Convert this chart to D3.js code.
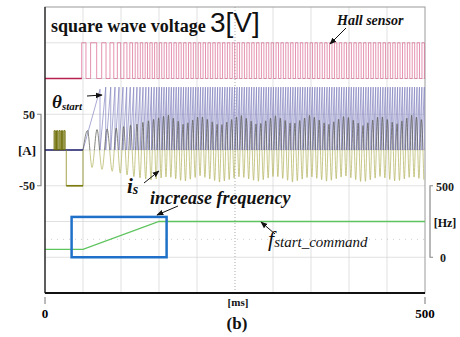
<!DOCTYPE html>
<html>
<head>
<meta charset="utf-8">
<script src="https://cdn.jsdelivr.net/npm/d3@7"></script>
<style>
  body { margin: 0; background: #fff; }
  svg { display: block; }
</style>
</head>
<body>
<div id="chart"></div>
<script>
// ---- values ----
const timeTicks = [0, 500];          // [ms]
const ampTicks = [-50, 50];          // [A]
const hzTicks = [0, 500];            // [Hz]

// f_start_command
const fCmdTime = [0, 50, 150, 500];
const fCmdHz = [55, 55, 250, 250];

// current pulses from the square wave voltage, then alignment at -50 A
const pulseRise = [12.0, 15.2, 18.4, 21.6, 24.8];
const pulseFall = [13.6, 16.8, 20.0, 23.2, 26.4];
const pulseAmp = 27;
const alignTime = [28, 50];
const alignAmp = -50;

// hall sensor edges [ms]: the sparse start, then the dense part by its spacing
const hallEdgesEarly = [48.3, 53.9, 60.0, 68.0, 74.6, 80.3, 85.5, 90.5, 95.2, 99.6, 103.8,
  107.8, 111.6, 115.2, 118.7, 122.1, 125.4, 128.6, 131.8, 134.9, 138.0, 141.1, 144.2, 147.3, 150.4];
const hallDense = [153.6, 500, 3.2];

// theta_start sawtooth resets [ms]
const thetaStart = 50;
const thetaResetsEarly = [72.4, 79.9, 86.5, 92.1, 97.4, 102.6, 107.5, 112.2, 116.7, 121.0,
  125.1, 129.0, 132.8, 136.5, 140.1, 143.6, 147.0, 150.3];
const thetaDense = [153.5, 500, 3.2];
const thetaPeak = [85, 88];          // first ramp, later ramps

// i_s troughs [ms] and envelopes
const isTroughsEarly = [61.9, 75.0, 88.5, 99.0, 108.0, 117.0, 125.0, 132.5, 139.5, 146.3];
const isDense = [152.8, 500, 6.4];
const isEnvTime = [50, 60, 75, 90, 105, 120, 140, 162, 183, 204, 230, 257, 280, 303, 326, 349, 372, 395, 418, 441, 462, 483, 500];
const isPosEnv = [26, 28, 29, 30, 33, 36, 42, 49, 35, 48, 34, 49, 35, 48, 36, 49, 35, 48, 34, 48, 36, 49, 40];
const isNegEnv = [-20, -24, -27, -30, -34, -38, -42, -37, -44, -36, -45, -37, -44, -36, -45, -37, -44, -36, -45, -37, -44, -37, -42];

// "increase frequency" box [ms, Hz]
const boxTime = [35, 160];
const boxHz = [0, 282];

const W = 460, H = 337;
const pL = 45, pR = 425, pT = 7, pB = 293;

const svg = d3.select('#chart').append('svg')
    .attr('width', W)
    .attr('height', H);

const x = d3.scaleLinear().domain([0, 500]).range([pL, pR]);
const div = d3.scaleLinear().domain([0, 8]).range([pT, pB]);   // scope divisions
const yA = d3.scaleLinear().domain([-50, 50]).range([div(5), div(3)]);
const yHz = d3.scaleLinear().domain([0, 500]).range([div(7), div(5)]);
const yHall = d3.scaleLinear().domain([0, 1]).range([div(2), div(1)]);

const posEnv = d3.scaleLinear().domain(isEnvTime).range(isPosEnv);
const negEnv = d3.scaleLinear().domain(isEnvTime).range(isNegEnv);

const defs = svg.append('defs');
defs.append('marker')
    .attr('id', 'arr')
    .attr('viewBox', '0 0 10 10')
    .attr('refX', 9).attr('refY', 5)
    .attr('markerWidth', 7).attr('markerHeight', 7)
    .attr('markerUnits', 'userSpaceOnUse')
    .attr('orient', 'auto')
  .append('path')
    .attr('d', 'M0,1 L10,5 L0,9 Z')
    .attr('fill', '#111');
defs.append('clipPath').attr('id', 'clipPos')
  .append('rect').attr('x', pL).attr('y', pT).attr('width', pR - pL).attr('height', yA(0) - pT);
defs.append('clipPath').attr('id', 'clipNeg')
  .append('rect').attr('x', pL).attr('y', yA(0)).attr('width', pR - pL).attr('height', pB - yA(0));

// grid
const grid = svg.append('g');
grid.selectAll('line.v')
    .data(d3.range(50, 500, 50).filter(d => d !== 250))
  .enter().append('line')
    .attr('x1', d => x(d)).attr('x2', d => x(d))
    .attr('y1', pT).attr('y2', pB)
    .attr('stroke', '#d4d4d4').attr('stroke-width', 0.7);
grid.selectAll('line.h')
    .data(d3.range(1, 8))
  .enter().append('line')
    .attr('x1', pL).attr('x2', pR)
    .attr('y1', d => div(d)).attr('y2', d => div(d))
    .attr('stroke', '#d4d4d4').attr('stroke-width', 0.7);
grid.append('line')
    .attr('x1', x(250)).attr('x2', x(250))
    .attr('y1', pT).attr('y2', pB)
    .attr('stroke', '#888').attr('stroke-width', 0.7).attr('stroke-dasharray', '1,2');
grid.append('line')
    .attr('x1', pL).attr('x2', pR)
    .attr('y1', div(6.5)).attr('y2', div(6.5))
    .attr('stroke', '#bbb').attr('stroke-width', 0.7).attr('stroke-dasharray', '1,5');

// frame
svg.append('rect')
    .attr('x', pL).attr('y', pT)
    .attr('width', pR - pL).attr('height', pB - pT)
    .attr('fill', 'none').attr('stroke', '#9a9a9a').attr('stroke-width', 1);

const line = d3.line().x(d => x(d[0])).y(d => d[1]);

// hall sensor
const hallEdges = hallEdgesEarly.concat(d3.range(...hallDense));
let hallPts = [[0, yHall(0)]], level = 0;
hallEdges.forEach(t => {
    hallPts.push([t, yHall(level)]);
    level = 1 - level;
    hallPts.push([t, yHall(level)]);
});
hallPts.push([500, yHall(level)]);
svg.append('path')
    .attr('d', line(hallPts))
    .attr('fill', 'none').attr('stroke', '#d9648e').attr('stroke-width', 0.7);
svg.append('line')
    .attr('x1', x(0)).attr('x2', x(hallEdgesEarly[0]))
    .attr('y1', yHall(0)).attr('y2', yHall(0))
    .attr('stroke', '#b82050').attr('stroke-width', 1.4);

// i_s (after start)
const troughs = isTroughsEarly.concat(d3.range(...isDense));
let isPts = [[thetaStart, 0]], prev = thetaStart;
troughs.forEach(t => {
    const pk = (prev + t) / 2;
    isPts.push([pk, posEnv(pk)]);
    isPts.push([t, negEnv(t)]);
    prev = t;
});
const isLine = d3.line().x(d => x(d[0])).y(d => yA(d[1])).curve(d3.curveMonotoneX);
svg.append('path')
    .attr('d', isLine(isPts))
    .attr('clip-path', 'url(#clipNeg)')
    .attr('fill', 'none').attr('stroke', '#b6b664').attr('stroke-width', 0.75);

// theta_start sawtooth
const resets = thetaResetsEarly.concat(d3.range(...thetaDense));
let thPts = [[thetaStart, yA(0)]];
resets.forEach((t, i) => {
    thPts.push([t, yA(i === 0 ? thetaPeak[0] : thetaPeak[1])]);
    thPts.push([t, yA(0)]);
});
svg.append('path')
    .attr('d', line(thPts))
    .attr('fill', 'none').attr('stroke', '#8484c0').attr('stroke-width', 0.7);

svg.append('path')
    .attr('d', isLine(isPts))
    .attr('clip-path', 'url(#clipPos)')
    .attr('fill', 'none').attr('stroke', '#5e5e58').attr('stroke-width', 0.75);

// zero line before start
svg.append('line')
    .attr('x1', x(0)).attr('x2', x(thetaStart))
    .attr('y1', yA(0)).attr('y2', yA(0))
    .attr('stroke', '#1c1c6e').attr('stroke-width', 1.3);

// square wave current pulses
let pPts = [[pulseRise[0] - 1, yA(0)]];
pulseRise.forEach((t, i) => {
    pPts.push([t, yA(0)], [t, yA(pulseAmp)], [pulseFall[i], yA(pulseAmp)], [pulseFall[i], yA(0)]);
});
svg.append('path')
    .attr('d', line(pPts))
    .attr('fill', '#8a8a1a').attr('fill-opacity', 0.35)
    .attr('stroke', '#6e6e08').attr('stroke-width', 1);

// alignment at -50 A
svg.append('path')
    .attr('d', line([[alignTime[0], yA(0)], [alignTime[0], yA(alignAmp)],
                     [alignTime[1], yA(alignAmp)], [alignTime[1], yA(0)]]))
    .attr('fill', 'none').attr('stroke', '#8a8a20').attr('stroke-width', 0.8);
svg.append('line')
    .attr('x1', x(alignTime[0])).attr('x2', x(alignTime[1]))
    .attr('y1', yA(alignAmp)).attr('y2', yA(alignAmp))
    .attr('stroke', '#7c7c10').attr('stroke-width', 1.6);

// f_start_command
svg.append('path')
    .attr('d', d3.line().x((d, i) => x(fCmdTime[i])).y(d => yHz(d))(fCmdHz))
    .attr('fill', 'none').attr('stroke', '#5ec45e').attr('stroke-width', 1.3);

// dark left / bottom axes
svg.append('line').attr('x1', pL).attr('x2', pL).attr('y1', pT).attr('y2', pB)
    .attr('stroke', '#222').attr('stroke-width', 1.3);
svg.append('line').attr('x1', pL).attr('x2', pR).attr('y1', pB).attr('y2', pB)
    .attr('stroke', '#111').attr('stroke-width', 1.8);

// increase frequency box
svg.append('rect')
    .attr('x', x(boxTime[0])).attr('y', yHz(boxHz[1]))
    .attr('width', x(boxTime[1]) - x(boxTime[0])).attr('height', yHz(boxHz[0]) - yHz(boxHz[1]))
    .attr('fill', 'none').attr('stroke', '#1f70c8').attr('stroke-width', 2.5);

// x axis ticks
const xAxis = svg.append('g');
xAxis.selectAll('line').data(timeTicks).enter().append('line')
    .attr('x1', d => x(d)).attr('x2', d => x(d))
    .attr('y1', 297).attr('y2', 304)
    .attr('stroke', '#777').attr('stroke-width', 1);
xAxis.selectAll('text').data(timeTicks).enter().append('text')
    .attr('x', d => x(d)).attr('y', 318)
    .attr('text-anchor', 'middle')
    .attr('font-family', 'Liberation Serif, serif').attr('font-size', 13).attr('font-weight', 'bold')
    .text(d => d);

const serif = 'Liberation Serif, Times New Roman, serif';
function txt(xp, yp, s, size, opts = {}) {
    return svg.append('text')
        .attr('x', xp).attr('y', yp)
        .attr('font-family', opts.family || serif)
        .attr('font-size', size)
        .attr('font-weight', opts.weight || 'bold')
        .attr('font-style', opts.style || 'normal')
        .attr('text-anchor', opts.anchor || 'start')
        .attr('fill', '#111')
        .text(s);
}
txt(238, 306, '[ms]', 11, { anchor: 'middle' });
txt(237, 329, '(b)', 17, { anchor: 'middle' });

// left amp bracket
const ampG = svg.append('g');
ampG.append('path')
    .attr('d', `M37,${yA(50)}H41V${yA(-50)}H37`)
    .attr('fill', 'none').attr('stroke', '#888').attr('stroke-width', 1.2);
ampG.selectAll('text').data(ampTicks).enter().append('text')
    .attr('x', 35).attr('y', d => yA(d) + 4.5)
    .attr('text-anchor', 'end')
    .attr('font-family', serif).attr('font-size', 12).attr('font-weight', 'bold')
    .attr('fill', '#222')
    .text(d => d);
txt(27, yA(0) + 5, '[A]', 13, { anchor: 'middle' });

// right Hz bracket
const hzG = svg.append('g');
hzG.append('path')
    .attr('d', `M433,${yHz(500)}H430V${yHz(0)}H433`)
    .attr('fill', 'none').attr('stroke', '#888').attr('stroke-width', 1.2);
hzG.selectAll('text').data(hzTicks).enter().append('text')
    .attr('x', d => d === 0 ? 440 : 436).attr('y', d => yHz(d) + 5)
    .attr('font-family', serif).attr('font-size', 12).attr('font-weight', 'bold')
    .attr('fill', '#222')
    .text(d => d);
txt(445, yHz(250) + 5, '[Hz]', 12, { anchor: 'middle' });

// labels
txt(51, 32, 'square wave voltage', 18);
txt(210, 32, '3[V]', 28, { family: 'Liberation Sans, Arial, sans-serif', weight: 'normal' });
txt(337, 25, 'Hall sensor', 14, { style: 'italic' });

const th = txt(52, 108, 'θ', 19, { style: 'italic' });
th.append('tspan').attr('font-size', 11).attr('dy', 2).text('start');
const is = txt(127, 193, 'i', 21, { style: 'italic' });
is.append('tspan').attr('font-size', 14).attr('dy', 1).text('s');
txt(150, 204, 'increase frequency', 18, { style: 'italic' });
const fs = txt(268, 246, 'f', 22, { style: 'italic', weight: 'normal' });
fs.append('tspan').attr('font-size', 15).attr('dy', 1).text('start_command');

function arrow(x1, y1, x2, y2) {
    svg.append('line')
        .attr('x1', x1).attr('y1', y1).attr('x2', x2).attr('y2', y2)
        .attr('stroke', '#111').attr('stroke-width', 1)
        .attr('marker-end', 'url(#arr)');
}
arrow(346, 28, 330, 44);
arrow(87, 96, 102, 95);
arrow(144, 183, 159, 171);
arrow(178, 206, 157, 215);
arrow(275, 234, 261, 222);
</script>
</body>
</html>
